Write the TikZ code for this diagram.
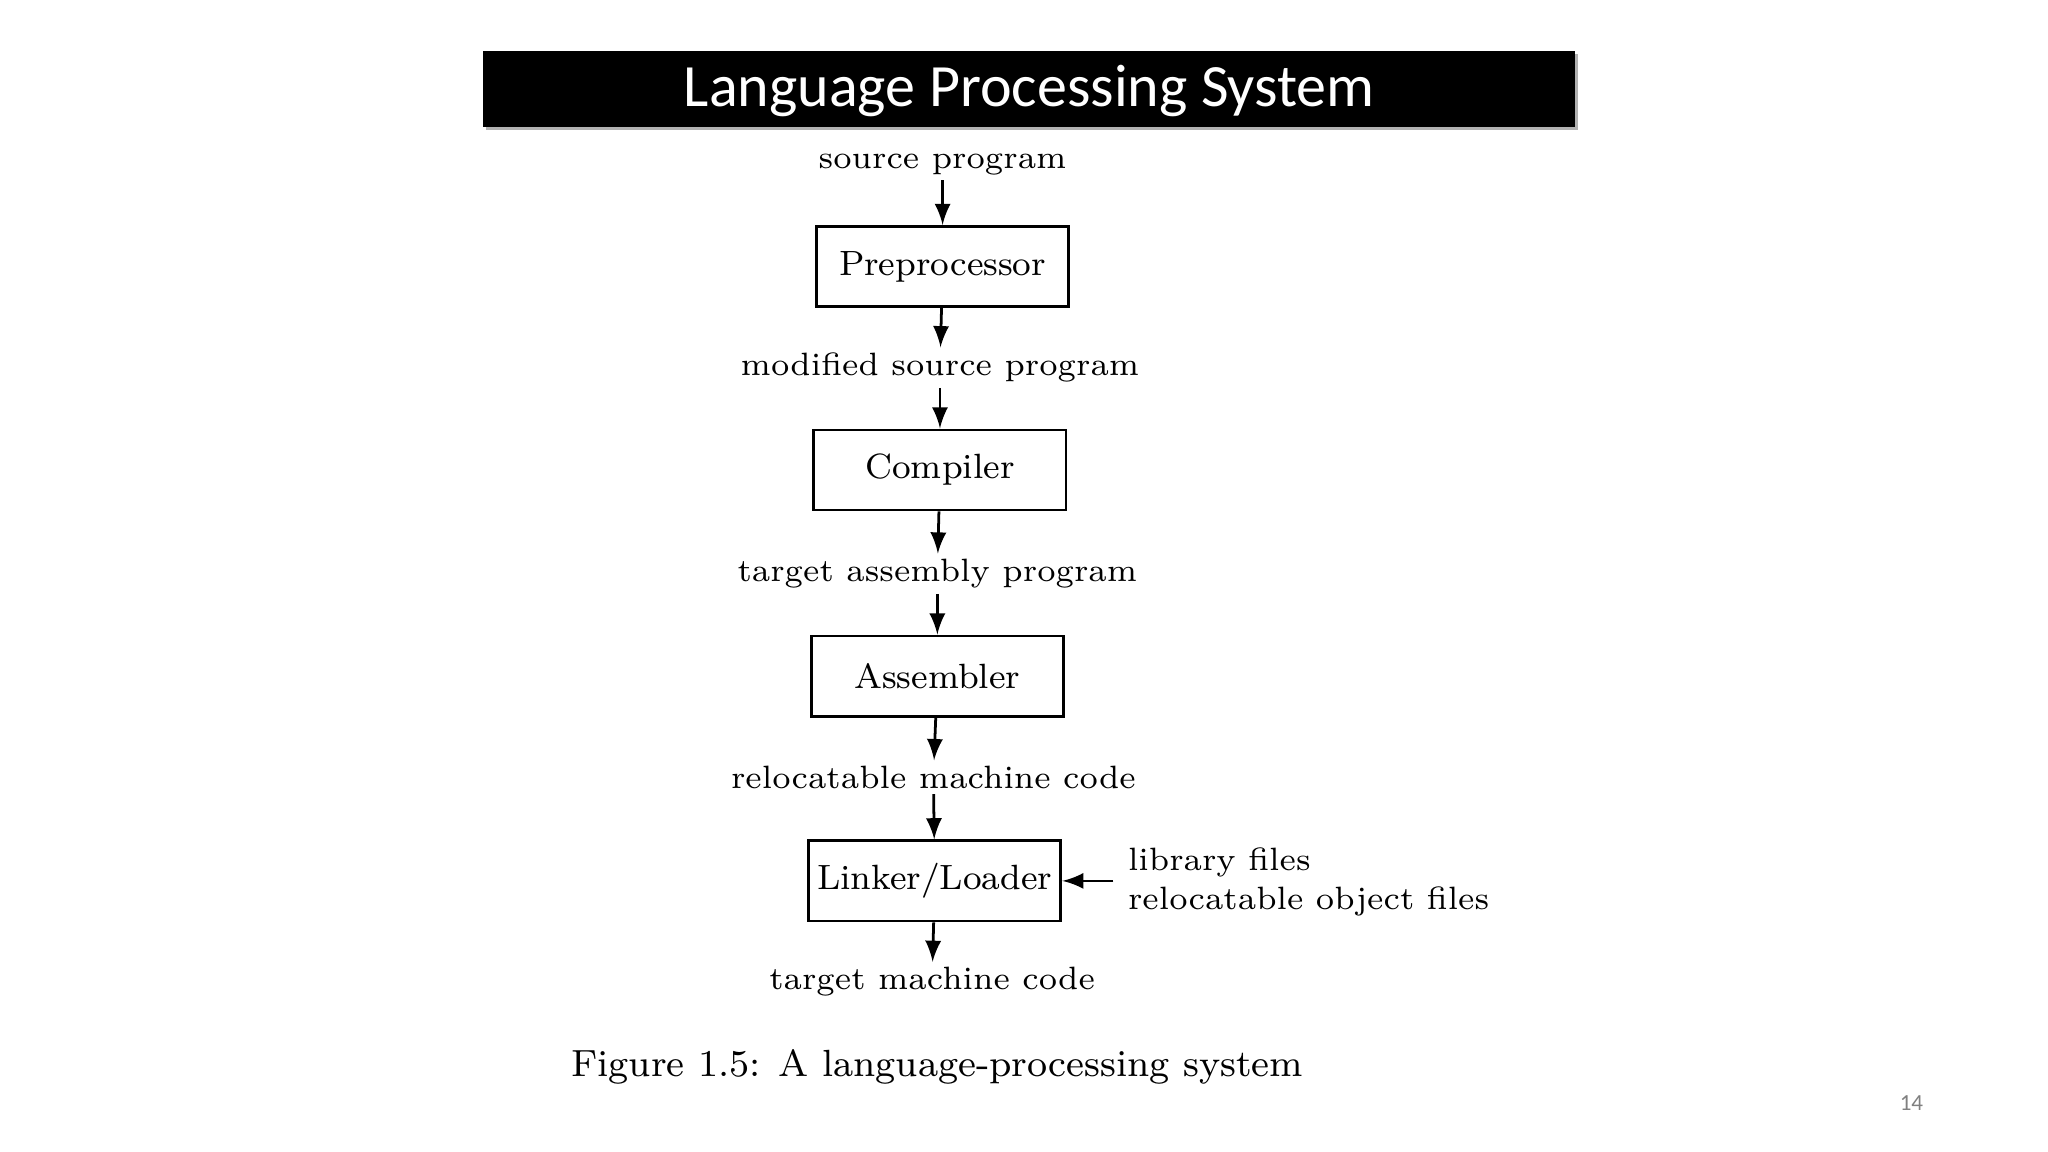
\documentclass[tikz,border=0pt]{standalone}
\usepackage{fontspec}
\newfontfamily\carlfont{Carlito}
\begin{document}
\begin{tikzpicture}[x=0.01cm,y=-0.01cm,
  bx/.style={draw,line width=0.6pt,minimum width=1.92cm,minimum height=0.61cm,inner sep=0pt,font=\fontsize{7.6}{9}\selectfont},
  lb/.style={inner sep=1pt,font=\fontsize{7}{8.5}\selectfont},
  ar/.style={-latex,line width=0.6pt}]
\useasboundingbox (0,0) rectangle (1560,877);
\fill[gray!60] (370,41) rectangle (1202,99);
\fill[black] (368,39) rectangle (1200,97);
\node[text=white,font=\carlfont\fontsize{13}{15}\selectfont] (title) at (784,69) {Language Processing System};
\node[lb] (src) at (718,125) {source program};
\node[bx] (pre) at (718,203) {Preprocessor};
\node[lb] (mod) at (716,280) {modified source program};
\node[bx] (comp) at (716,358) {Compiler};
\node[lb] (tas) at (714,437) {target assembly program};
\node[bx] (asm) at (714,515) {Assembler};
\node[lb] (rel) at (711,592) {relocatable machine code};
\node[bx] (lnk) at (712,671) {Linker/Loader};
\node[lb] (tmc) at (710,748) {target machine code};
\node[lb,align=left,anchor=west] (lib) at (855,672) {library files\\relocatable object files};
\coordinate (libin) at (848,671);
\draw[ar] (src) -- (pre);
\draw[ar] (pre) -- (mod);
\draw[ar] (mod) -- (comp);
\draw[ar] (comp) -- (tas);
\draw[ar] (tas) -- (asm);
\draw[ar] (asm) -- (rel);
\draw[ar] (rel) -- (lnk);
\draw[ar] (lnk) -- (tmc);
\draw[ar] (libin) -- (lnk.east);
\node[font=\fontsize{8.2}{10}\selectfont] (cap) at (714,813) {Figure 1.5: A language-processing system};
\node[text=gray,font=\carlfont\fontsize{5}{6}\selectfont] (pg) at (1456,840) {14};
\end{tikzpicture}
\end{document}
